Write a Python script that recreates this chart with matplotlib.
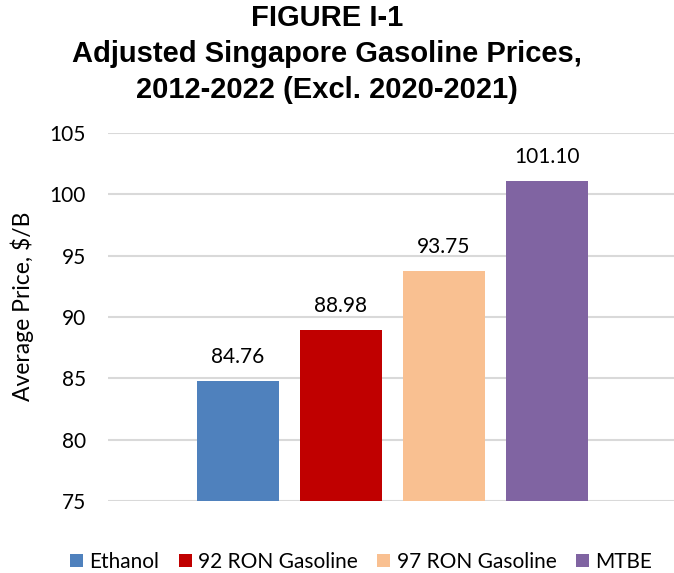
import matplotlib
matplotlib.use("Agg")
import matplotlib.pyplot as plt
from matplotlib.patches import Patch

categories = ["Ethanol", "92 RON Gasoline", "97 RON Gasoline", "MTBE"]
prices = [84.76, 88.98, 93.75, 101.10]
colors = ["#4f81bd", "#c00000", "#f9c091", "#8064a2"]
yticks = [75, 80, 85, 90, 95, 100, 105]

body_font = ["Lato", "DejaVu Sans"]
title_font = ["Liberation Sans", "DejaVu Sans"]

fig = plt.figure(figsize=(6.74, 5.73), dpi=100)
ax = fig.add_axes([108 / 674, 1 - 501 / 573, 1 - 108 / 674, (501 - 133) / 573])

x = list(range(len(categories)))
bars = ax.bar(x, prices, width=0.8, color=colors, zorder=3)

for xi, v in zip(x, prices):
    ax.annotate(f"{v:.2f}", (xi, v), xytext=(0, 10), textcoords="offset points",
                ha="center", va="bottom", fontsize=15, family=body_font, color="#000000")

ax.set_ylim(75, 105)
ax.set_yticks(yticks)
ax.set_yticklabels([str(t) for t in yticks], family=body_font, fontsize=15)
ax.set_xlim(-1.262, 4.233)
ax.set_xticks([])
ax.tick_params(axis="y", length=0, pad=16)
ax.yaxis.grid(True, color="#d9d9d9", linewidth=1.5, zorder=0)
for s in ax.spines.values():
    s.set_visible(False)

fig.text(22 / 674, 1 - 306 / 573, "Average Price, $/B", rotation=90, ha="center", va="center",
         fontsize=16.5, family=body_font)

fig.text(327 / 674, 1 - 4 / 573, "FIGURE I-1\nAdjusted Singapore Gasoline Prices,\n2012-2022 (Excl. 2020-2021)",
         ha="center", va="top", fontsize=21, fontweight="bold", family=title_font, linespacing=1.36)

handles = [Patch(facecolor=c, edgecolor="none") for c in colors]
fig.legend(handles, categories, loc="center", bbox_to_anchor=(361 / 674, 1 - 562 / 573), ncol=4,
           frameon=False, prop={"family": body_font, "size": 15}, handlelength=0.62, handleheight=0.62,
           handletextpad=0.3, columnspacing=0.95)

fig.savefig("out.png", dpi=100)
